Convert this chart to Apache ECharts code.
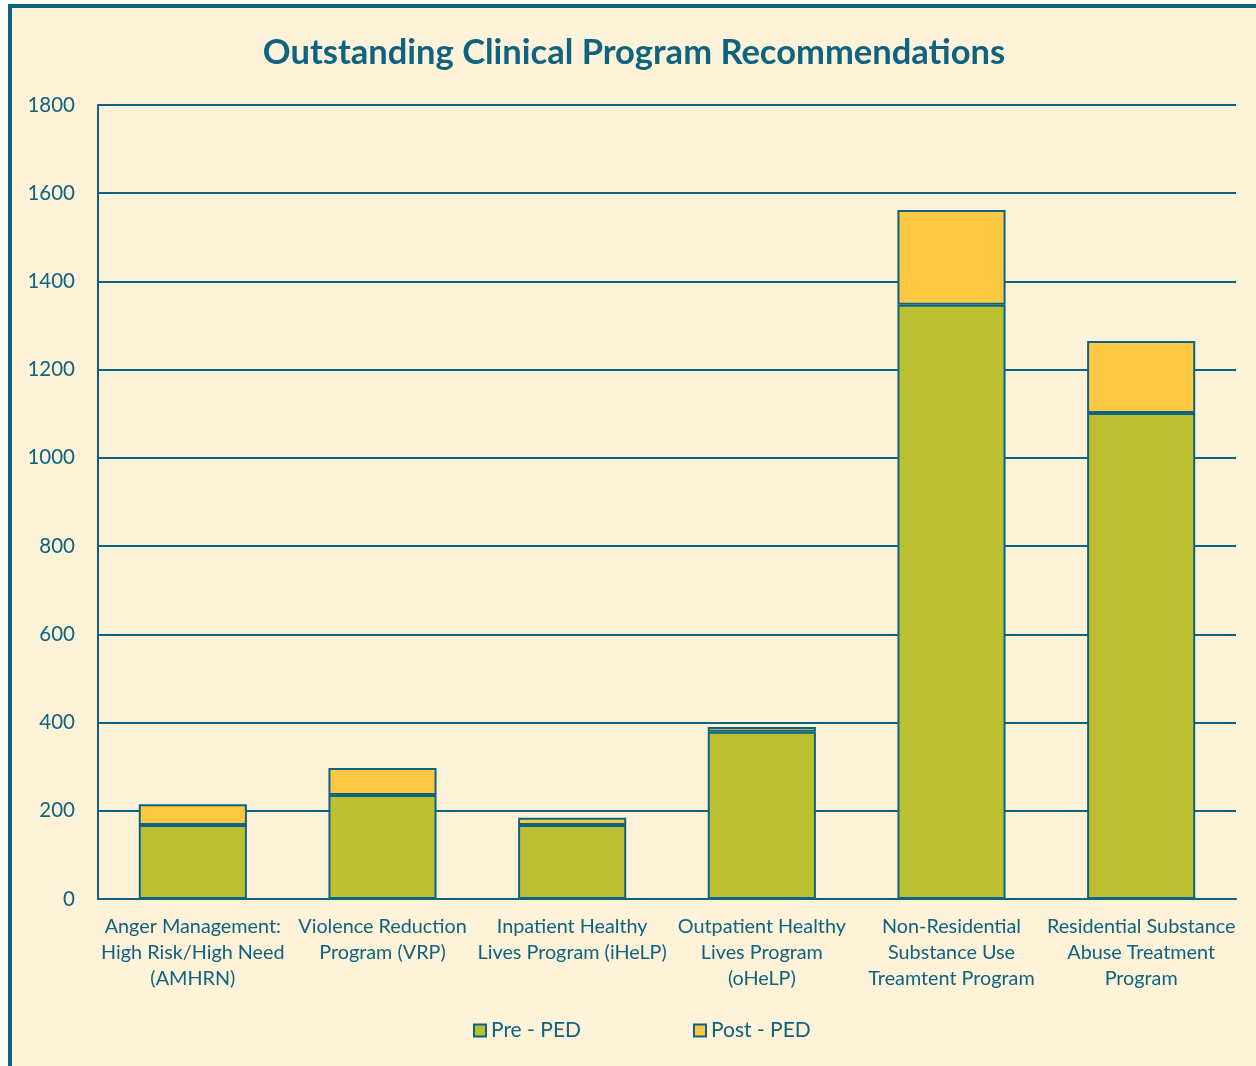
<!DOCTYPE html>
<html>
<head>
    <meta charset="utf-8">
    <title>Outstanding Clinical Program Recommendations</title>
    <script src="https://cdn.jsdelivr.net/npm/echarts@6/dist/echarts.min.js"></script>
    <style>
        html, body { margin: 0; padding: 0; overflow: hidden; background: #ffffff; }
        #frame {
            position: absolute; left: 8px; top: 4px;
            width: 1300px; height: 1100px;
            border: 4px solid #0D6380;
            background: #FEF2D9;
        }
        #result { width: 1244px; height: 1058px; }
    </style>
</head>
<body>
    <div id="frame"><div id="result"></div></div>
    <script>
        // categories and values
        var programs = [
            'Anger Management:\nHigh Risk/High Need\n(AMHRN)',
            'Violence Reduction\nProgram (VRP)',
            'Inpatient Healthy\nLives Program (iHeLP)',
            'Outpatient Healthy\nLives Program\n(oHeLP)',
            'Non-Residential\nSubstance Use\nTreamtent Program',
            'Residential Substance\nAbuse Treatment\nProgram'
        ];
        var prePED = [168, 236, 168, 379, 1347, 1102];
        var postPED = [47, 61, 16, 11, 215, 163];
        var yTicks = { min: 0, max: 1800, interval: 200 };

        var ink = '#0D6380';
        var font = 'Lato, "Open Sans", sans-serif';

        var myChart = echarts.init(document.getElementById('result'));
        var option = {
            animation: false,
            textStyle: { fontFamily: font },
            title: {
                text: 'Outstanding Clinical Program Recommendations',
                left: 'center',
                top: 22,
                textStyle: { color: ink, fontSize: 34.5, fontWeight: 'bold', fontFamily: font }
            },
            legend: {
                data: ['Pre - PED', 'Post - PED'],
                bottom: 20,
                left: 456,
                icon: 'rect',
                itemWidth: 12,
                itemHeight: 12,
                itemGap: 112,
                textStyle: { color: ink, fontSize: 21, fontFamily: font }
            },
            grid: { left: 86, top: 97, right: 20, bottom: 167 },
            xAxis: {
                type: 'category',
                data: programs,
                axisLine: { lineStyle: { color: ink, width: 2 } },
                axisTick: { show: false },
                axisLabel: {
                    color: ink, fontSize: 19.8, lineHeight: 26,
                    margin: 15, interval: 0, fontFamily: font
                }
            },
            yAxis: {
                type: 'value',
                min: yTicks.min,
                max: yTicks.max,
                interval: yTicks.interval,
                axisLine: { show: true, lineStyle: { color: ink, width: 2 } },
                axisTick: { show: false },
                splitLine: { lineStyle: { color: ink, width: 2 } },
                axisLabel: {
                    color: ink, fontSize: 20.5, margin: 23, fontFamily: font,
                    formatter: function (v) { return String(v); }
                }
            },
            series: [{
                name: 'Pre - PED',
                type: 'bar',
                stack: 'all',
                barWidth: '57%',
                data: prePED,
                itemStyle: { color: '#BBC033', borderColor: ink, borderWidth: 2 }
            }, {
                name: 'Post - PED',
                type: 'bar',
                stack: 'all',
                data: postPED,
                itemStyle: { color: '#FEC843', borderColor: ink, borderWidth: 2 }
            }]
        };
        myChart.setOption(option);
    </script>
</body>
</html>
